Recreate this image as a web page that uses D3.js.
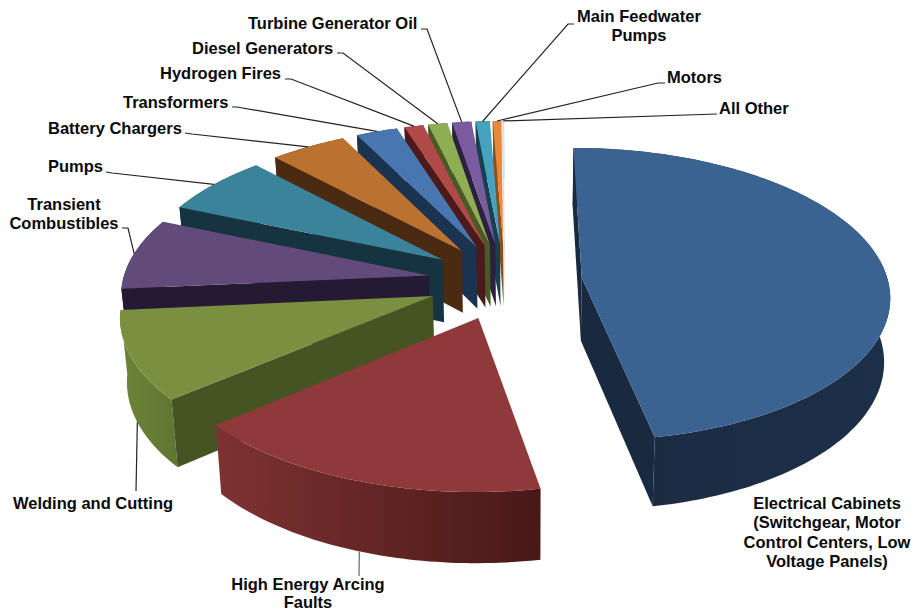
<!DOCTYPE html>
<html>
<head>
<meta charset="utf-8">
<script src="https://cdn.jsdelivr.net/npm/d3@7"></script>
<style>
body { margin: 0; background: #fff; }
text { font-family: "Liberation Sans", Arial, sans-serif; font-weight: bold; font-size: 16.5px; fill: #0a0a0a; }
</style>
</head>
<body>
<div id="chart"></div>
<script>
// fire ignition sources, percent share
const categories = ["Electrical Cabinets", "High Energy Arcing Faults", "Welding and Cutting",
  "Transient Combustibles", "Pumps", "Battery Chargers", "Transformers", "Hydrogen Fires",
  "Diesel Generators", "Turbine Generator Oil", "Main Feedwater Pumps", "Motors", "All Other"];
const shares = [47.1, 16.8, 9.7, 7.85, 6.6, 4.6, 2.5, 1.15, 1.15, 1.15, 0.85, 0.5, 0.1];

const topColors = ["#3b6391", "#90393a", "#7a9040", "#624b7a", "#3a839b", "#bb7230",
  "#4877b0", "#b04a49", "#8fae52", "#7a5c9e", "#45a3c0", "#e8893a", "#e6e0da"];
const sideColors = ["#19293f", "#4d1a1b", "#465423", "#251a33", "#153340", "#4b2a12",
  "#1a3350", "#4d1a1b", "#4a5a26", "#2c1f3f", "#164050", "#8a4f1e", "#cfc9c3"];
// outer wall shading, left to right; the back slices barely show theirs
const rimLeft = ["#1a2a40", "#7e3232", "#6d8539", "#251a33", "#153340", "#4b2a12",
  "#1a3350", "#4d1a1b", "#4a5a26", "#2c1f3f", "#164050", "#8a4f1e", "#cfc9c3"];
const rimRight = ["#1d3049", "#481818", "#5e7531", "#251a33", "#153340", "#4b2a12",
  "#1a3350", "#4d1a1b", "#4a5a26", "#2c1f3f", "#164050", "#8a4f1e", "#cfc9c3"];

const width = 914, height = 612;
const radius = 305, explodeX = 77, explodeY = 80, thickness = 63;

const svg = d3.select("#chart").append("svg")
  .attr("width", width).attr("height", height);
const defs = svg.append("defs");

// plane coords -> screen, with a bit of perspective
function project(x, y, low) {
  const yy = y + 11;
  const w = 1 - yy * 0.00037;
  let sx = 505 + x / w;
  let sy = 276 + 0.472 * yy / w;
  if (low) {
    const t = sy - 276;
    sx += (530 - sx) * 0.017;
    sy += thickness * (1 + 0.0006 * t);
  }
  return [sx, sy];
}

const pie = d3.pie().sort(null).value(d => d).startAngle(-0.002).endAngle(2 * Math.PI - 0.002);
const slices = pie(shares);
const line = d3.line();

function apexOf(s) {
  const mid = (s.startAngle + s.endAngle) / 2;
  return [explodeX * Math.sin(mid), -explodeY * Math.cos(mid)];
}
function rimPoint(s, a) {
  const p = apexOf(s);
  return [p[0] + radius * Math.sin(a), p[1] - radius * Math.cos(a)];
}
function rimAngles(s) {
  const n = Math.max(2, Math.ceil((s.endAngle - s.startAngle) / 0.02));
  return d3.range(n + 1).map(i => s.startAngle + (s.endAngle - s.startAngle) * i / n);
}

// small slices first so the big ones in front cover their walls
const order = d3.range(slices.length).reverse();
order.forEach(i => {
  const s = slices[i];
  const apex = apexOf(s);
  const g = svg.append("g").attr("class", "slice").attr("data-name", categories[i]);
  const angles = rimAngles(s);
  const rim = angles.map(a => rimPoint(s, a));

  // curved outer wall
  const upper = rim.map(p => project(p[0], p[1]));
  const lower = rim.map(p => project(p[0], p[1], true)).reverse();
  const xs = d3.extent(upper.concat(lower), p => p[0]);
  const grad = defs.append("linearGradient").attr("id", "rim" + i)
    .attr("gradientUnits", "userSpaceOnUse")
    .attr("x1", xs[0]).attr("x2", xs[1]).attr("y1", 0).attr("y2", 0);
  grad.append("stop").attr("offset", 0).attr("stop-color", rimLeft[i]);
  grad.append("stop").attr("offset", 1).attr("stop-color", rimRight[i]);
  g.append("path")
    .attr("d", line(upper.concat(lower)) + "Z")
    .attr("fill", "url(#rim" + i + ")");

  // two flat cut faces, only the ones that look toward the viewer get drawn over the wall
  [s.startAngle, s.endAngle].forEach((a, k) => {
    const r = rimPoint(s, a);
    const frontFacing = i === 0 ? true : k === 0 && i > 1;
    if (!frontFacing) return;
    g.append("path")
      .attr("d", line([project(apex[0], apex[1]), project(r[0], r[1]),
        project(r[0], r[1], true), project(apex[0], apex[1], true)]) + "Z")
      .attr("fill", sideColors[i]);
  });

  // top face
  g.append("path")
    .attr("d", line([project(apex[0], apex[1])].concat(upper)) + "Z")
    .attr("fill", topColors[i]);
});

// labels, one row per text line
const labels = [
  {lines: ["Electrical Cabinets", "(Switchgear, Motor", "Control Centers, Low", "Voltage Panels)"], x: 827, y: 509, anchor: "middle"},
  {lines: ["High Energy Arcing", "Faults"], x: 308, y: 590, anchor: "middle", rowGap: 18.4},
  {lines: ["Welding and Cutting"], x: 13, y: 509, anchor: "start"},
  {lines: ["Transient", "Combustibles"], x: 64, y: 210, anchor: "middle"},
  {lines: ["Pumps"], x: 48, y: 172, anchor: "start"},
  {lines: ["Battery Chargers"], x: 48, y: 134, anchor: "start"},
  {lines: ["Transformers"], x: 123, y: 108, anchor: "start"},
  {lines: ["Hydrogen Fires"], x: 160, y: 79, anchor: "start"},
  {lines: ["Diesel Generators"], x: 192, y: 54, anchor: "start"},
  {lines: ["Turbine Generator Oil"], x: 248, y: 29, anchor: "start"},
  {lines: ["Main Feedwater", "Pumps"], x: 639, y: 22, anchor: "middle"},
  {lines: ["Motors"], x: 667, y: 83, anchor: "start"},
  {lines: ["All Other"], x: 719, y: 114, anchor: "start"}
];
labels.forEach(l => {
  const t = svg.append("text").attr("text-anchor", l.anchor);
  l.lines.forEach((row, k) => {
    t.append("tspan").attr("x", l.x).attr("y", l.y + k * (l.rowGap || 19.3)).text(row);
  });
});

// leader lines: elbow points near the label, last point on the slice rim
const leaders = [
  {slice: 1, low: true, pts: [[359, 576]], color: "#666"},
  {slice: 2, low: true, pts: [[136, 491]], color: "#222"},
  {slice: 3, pts: [[122, 228], [128, 228]], color: "#222"},
  {slice: 4, pts: [[106, 172], [112, 173]], color: "#222"},
  {slice: 5, pts: [[185, 133], [192, 134]], color: "#222"},
  {slice: 6, pts: [[232, 107], [237, 107]], color: "#222"},
  {slice: 7, pts: [[285, 79], [291, 79]], color: "#222"},
  {slice: 8, pts: [[337, 53], [343, 53]], color: "#222"},
  {slice: 9, pts: [[421, 29], [427, 29]], color: "#222"},
  {slice: 10, pts: [[574, 24], [568, 24]], color: "#222"},
  {slice: 11, pts: [[665, 83], [658, 83]], color: "#222"},
  {slice: 12, pts: [[717, 114]], color: "#222"}
];
leaders.forEach(d => {
  const s = slices[d.slice];
  const r = rimPoint(s, (s.startAngle + s.endAngle) / 2);
  const end = project(r[0], r[1], d.low);
  svg.append("path")
    .attr("d", line(d.pts.concat([end])))
    .attr("fill", "none")
    .attr("stroke", d.color)
    .attr("stroke-width", 1.2);
});
</script>
</body>
</html>
